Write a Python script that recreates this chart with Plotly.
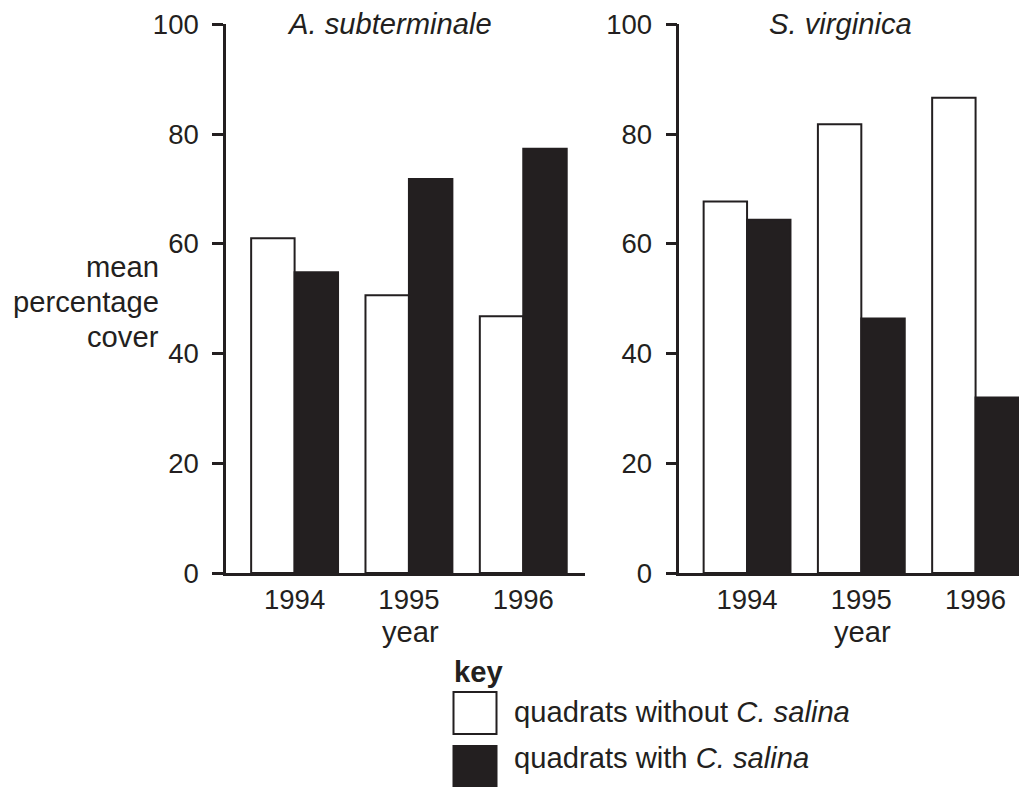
"""Mean percentage cover of two salt-marsh species with and without C. salina."""
import plotly.graph_objects as go

years = ["1994", "1995", "1996"]

# A. subterminale
asub_without = [61.0, 50.6, 46.8]
asub_with = [54.8, 71.8, 77.3]

# S. virginica
svir_without = [67.7, 81.8, 86.6]
svir_with = [64.4, 46.4, 32.0]

y_ticks = [0, 20, 40, 60, 80, 100]
y_title_lines = ["mean", "percentage", "cover"]

INK = "#231f20"
FONT = "Liberation Sans, Arial, Helvetica, sans-serif"
W, H = 1027, 787
OFFX, OFFY = 6, 8  # page body margin
TICK_SIZE = 27.5
TEXT_SIZE = 29.2


def px(x):
    return (x - OFFX) / W


def py(y):
    return 1 - (y - OFFY) / H


fig = go.Figure()

for ax, without, with_ in [("", asub_without, asub_with), ("2", svir_without, svir_with)]:
    fig.add_trace(go.Bar(
        x=years, y=without, xaxis="x" + ax, yaxis="y" + ax,
        marker=dict(color="white", line=dict(color=INK, width=2)),
        showlegend=False, hoverinfo="skip",
    ))
    fig.add_trace(go.Bar(
        x=years, y=with_, xaxis="x" + ax, yaxis="y" + ax,
        marker=dict(color=INK, line=dict(color=INK, width=2)),
        showlegend=False, hoverinfo="skip",
    ))

xaxis_common = dict(
    type="category", showline=True, linecolor=INK, linewidth=2.5,
    ticks="", showgrid=False, zeroline=False, automargin=False,
    tickfont=dict(size=TICK_SIZE, color=INK, family=FONT),
)
yaxis_common = dict(
    range=[0, 100], tickvals=y_ticks, showline=True, linecolor=INK, linewidth=2.5,
    ticks="outside", ticklen=11, tickwidth=2.5, tickcolor=INK,
    ticklabelstandoff=8, showgrid=False, zeroline=False, automargin=False,
    tickfont=dict(size=TICK_SIZE, color=INK, family=FONT),
)
y_dom = [py(573), py(24.3)]

fig.update_layout(
    width=W, height=H,
    margin=dict(l=0, r=0, t=0, b=0, autoexpand=False),
    paper_bgcolor="white", plot_bgcolor="white",
    barmode="group", bargap=0.24, bargroupgap=0,
    font=dict(family=FONT, color=INK, size=TEXT_SIZE),
    xaxis=dict(domain=[px(224), px(583)], range=[-0.6, 2.54], anchor="y", **xaxis_common),
    yaxis=dict(domain=y_dom, anchor="x", **yaxis_common),
    xaxis2=dict(domain=[px(677.3), 1.0], range=[-0.593, 2.52], anchor="y2", **xaxis_common),
    yaxis2=dict(domain=y_dom, anchor="x2", **yaxis_common),
)

annotations = [
    dict(text="<i>A. subterminale</i>", x=px(387), y=py(24), xanchor="center", yanchor="middle"),
    dict(text="<i>S. virginica</i>", x=px(838), y=py(24), xanchor="center", yanchor="middle"),
    dict(text="year", x=px(408), y=py(632), xanchor="center", yanchor="middle"),
    dict(text="year", x=px(860), y=py(632), xanchor="center", yanchor="middle"),
    dict(text="<b>key</b>", x=px(450), y=py(672), xanchor="left", yanchor="middle"),
    dict(text="quadrats without <i>C. salina</i>", x=px(510), y=py(712),
         xanchor="left", yanchor="middle"),
    dict(text="quadrats with <i>C. salina</i>", x=px(510), y=py(758),
         xanchor="left", yanchor="middle"),
]
for i, line in enumerate(y_title_lines):
    annotations.append(dict(text=line, x=px(159), y=py(267 + 35 * i),
                            xanchor="right", yanchor="middle"))
for a in annotations:
    fig.add_annotation(xref="paper", yref="paper", showarrow=False,
                       font=dict(size=TEXT_SIZE, color=INK, family=FONT), **a)

# key swatches
fig.add_shape(type="rect", xref="paper", yref="paper",
              x0=px(451.5), x1=px(494.5), y0=py(734), y1=py(692),
              fillcolor="white", line=dict(color=INK, width=2))
fig.add_shape(type="rect", xref="paper", yref="paper",
              x0=px(450.5), x1=px(495.5), y0=py(795), y1=py(745),
              fillcolor=INK, line=dict(color=INK, width=0))

fig.write_html("out.html")
